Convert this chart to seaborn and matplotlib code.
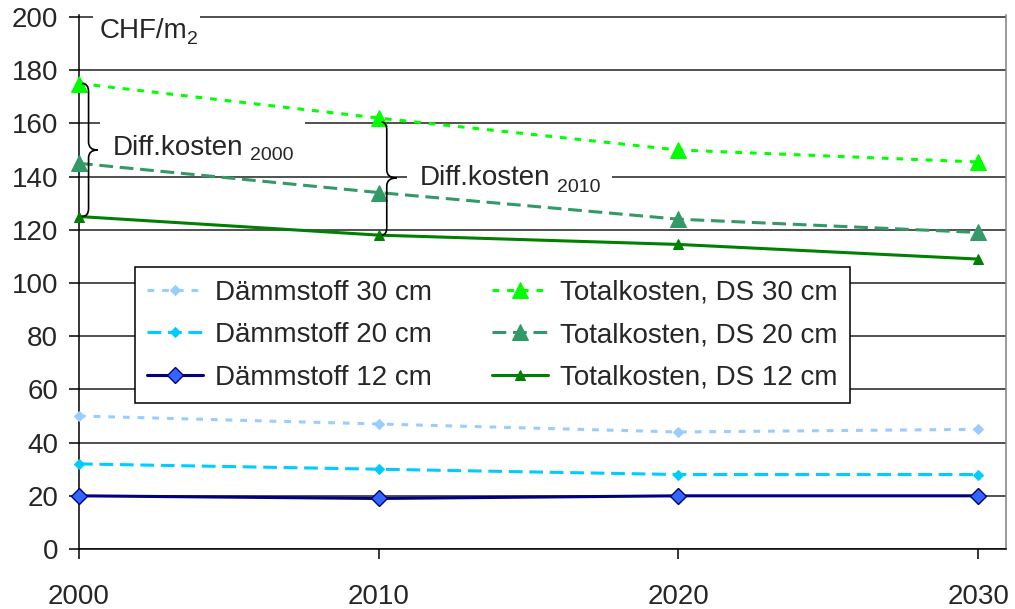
import matplotlib
matplotlib.use("Agg")
import matplotlib.pyplot as plt
from matplotlib.path import Path
from matplotlib.patches import PathPatch, Rectangle
import seaborn as sns

# --- data -------------------------------------------------------------
years = [2000, 2010, 2020, 2030]

daemm_30 = [50, 47, 44, 45]
daemm_20 = [32, 30, 28, 28]
daemm_12 = [20, 19, 20, 20]

total_30 = [175, 162, 150, 145.5]
total_20 = [145, 134, 124, 119]
total_12 = [125, 118, 114.5, 109]

labels = ["Dämmstoff 30 cm", "Dämmstoff 20 cm", "Dämmstoff 12 cm",
          "Totalkosten, DS 30 cm", "Totalkosten, DS 20 cm", "Totalkosten, DS 12 cm"]
y_ticks = list(range(0, 201, 20))

# --- style ------------------------------------------------------------
sns.set_style("white")
plt.rcParams["font.family"] = ["Liberation Sans", "DejaVu Sans"]

fig = plt.figure(figsize=(10.15, 6.09), dpi=100)
ax = fig.add_axes([0.0778, 0.0985, 0.9133, 0.8762])

dotted = (0, (2.2, 2.6))
dashed = (0, (4.5, 2.2))

series = [
    (daemm_30, dict(color="#99CCFF", linestyle=dotted, marker="D", markersize=5,
                    markerfacecolor="#99CCFF", markeredgecolor="#99CCFF")),
    (daemm_20, dict(color="#00CCFF", linestyle=dashed, marker="D", markersize=5,
                    markerfacecolor="#00CCFF", markeredgecolor="#00CCFF")),
    (daemm_12, dict(color="#000080", linestyle="-", marker="D", markersize=8,
                    markerfacecolor="#3366FF", markeredgecolor="#000080", markeredgewidth=1)),
    (total_30, dict(color="#00FF00", linestyle=dotted, marker="^", markersize=12,
                    markerfacecolor="#00FF00", markeredgecolor="#00FF00")),
    (total_20, dict(color="#339966", linestyle=dashed, marker="^", markersize=11,
                    markerfacecolor="#339966", markeredgecolor="#339966")),
    (total_12, dict(color="#008000", linestyle="-", marker="^", markersize=7,
                    markerfacecolor="#008000", markeredgecolor="#008000")),
]

for (vals, kw), lab in zip(series, labels):
    sns.lineplot(x=years, y=vals, ax=ax, label=lab, linewidth=2.2,
                 clip_on=False, zorder=5, **kw)

# --- axes -------------------------------------------------------------
ax.set_xlim(2000, 2030.93)
ax.set_ylim(0, 200.6)
ax.set_xticks(years)
ax.set_yticks(y_ticks)
ax.set_xlabel("")
ax.set_ylabel("")
ax.set_axisbelow(True)
ax.yaxis.grid(True, color="#202020", linewidth=1.1)
ax.xaxis.grid(False)

for side in ("left", "bottom"):
    ax.spines[side].set_color("black")
    ax.spines[side].set_linewidth(1.1)
ax.spines["top"].set_visible(False)
ax.spines["right"].set_color("#808080")
ax.spines["right"].set_linewidth(1.1)

ax.tick_params(axis="y", direction="out", length=7, width=1.1, color="black",
               labelsize=20, pad=8, left=True)
ax.tick_params(axis="x", direction="out", length=7, width=1.1, color="black",
               labelsize=20, pad=18, bottom=True)

# white patches interrupting the grid behind the annotations
for (x0, x1, y0, y1) in [(2000.47, 2004.05, 197.5, 202.5),
                         (2000.70, 2007.55, 157.0, 163.0),
                         (2010.94, 2017.80, 137.0, 143.0)]:
    ax.add_patch(Rectangle((x0, y0), x1 - x0, y1 - y0, facecolor="white",
                           edgecolor="none", zorder=1, clip_on=False))

# unit label
ax.text(2000.70, 192.1, "CHF/m", fontsize=20, va="baseline", ha="left", zorder=6)
ax.text(2003.60, 190.0, "2", fontsize=14, va="baseline", ha="left", zorder=6)


def curly_brace(ax, x_left, x_mid, x_tip, y_top, y_bot, y_mid, r):
    verts = [
        (x_left, y_top),
        (x_mid, y_top), (x_mid, y_top - r),
        (x_mid, y_mid + r),
        (x_mid, y_mid), (x_tip, y_mid),
        (x_mid, y_mid), (x_mid, y_mid - r),
        (x_mid, y_bot + r),
        (x_mid, y_bot), (x_left, y_bot),
    ]
    codes = [Path.MOVETO,
             Path.CURVE3, Path.CURVE3,
             Path.LINETO,
             Path.CURVE3, Path.CURVE3,
             Path.CURVE3, Path.CURVE3,
             Path.LINETO,
             Path.CURVE3, Path.CURVE3]
    ax.add_patch(PathPatch(Path(verts, codes), facecolor="none", edgecolor="black",
                           linewidth=1.2, zorder=6, clip_on=False))


curly_brace(ax, 2000.10, 2000.32, 2000.62, 175.0, 125.0, 150.0, 3.0)
curly_brace(ax, 2010.10, 2010.27, 2010.60, 160.5, 118.0, 139.5, 3.0)

# difference annotations
ax.text(2001.13, 148.1, "Diff.kosten", fontsize=20, va="baseline", ha="left", zorder=6)
ax.text(2005.70, 146.2, "2000", fontsize=14, va="baseline", ha="left", zorder=6)
ax.text(2011.38, 136.8, "Diff.kosten", fontsize=20, va="baseline", ha="left", zorder=6)
ax.text(2015.95, 134.2, "2010", fontsize=14, va="baseline", ha="left", zorder=6)

# legend, stretched over a fixed box
leg = ax.legend(loc="upper left", bbox_to_anchor=(0.0604, 0.2830, 0.7713, 0.2455),
                mode="expand", borderaxespad=0,
                ncol=2, fontsize=20, frameon=True, fancybox=False, framealpha=1,
                edgecolor="black", handlelength=2.0, handletextpad=0.43,
                columnspacing=2.0, labelspacing=0.6, borderpad=0.45)
leg.get_frame().set_linewidth(1.1)
leg.set_zorder(7)

fig.savefig("out.png", dpi=100)
